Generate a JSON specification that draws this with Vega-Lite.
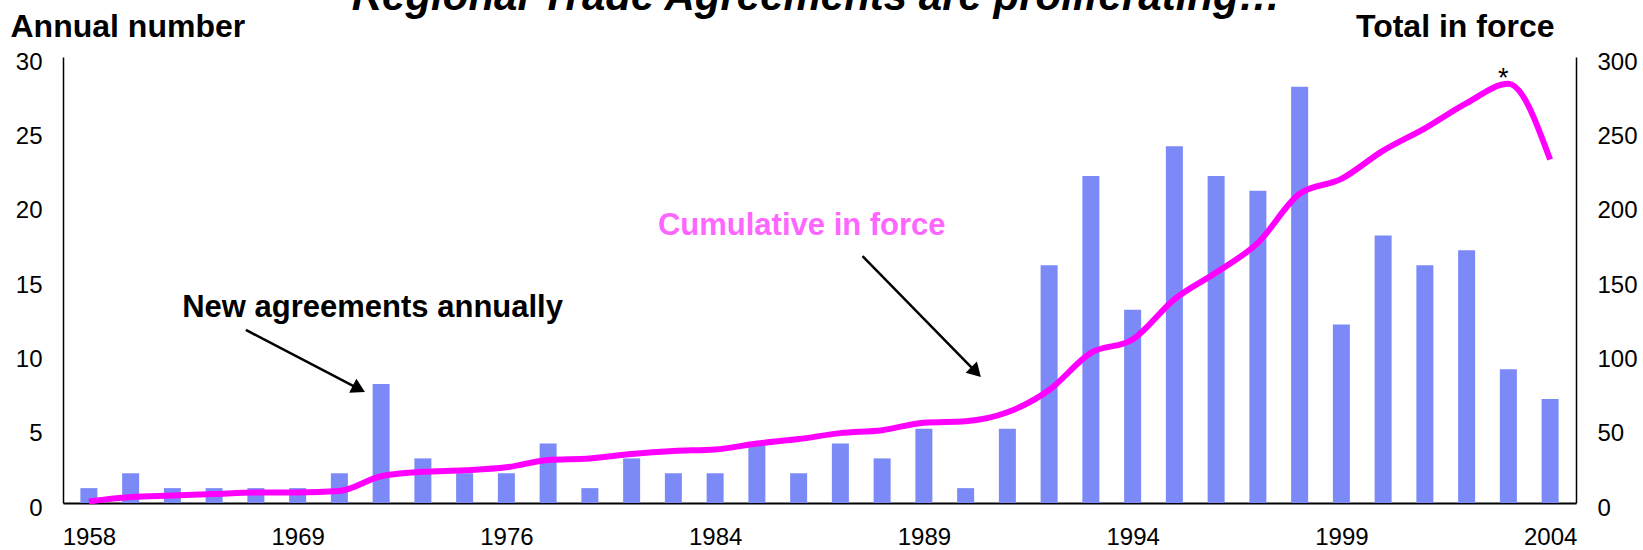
{
  "$schema": "https://vega.github.io/schema/vega-lite/v6.json",
  "width": 1513,
  "height": 446,
  "autosize": {"type": "none"},
  "padding": {"left": 63, "top": 57, "right": 67, "bottom": 47},
  "background": "white",
  "config": {
    "view": {"stroke": null},
    "font": "Liberation Sans",
    "axis": {
      "grid": false, "ticks": false, "tickSize": 0,
      "labelFont": "Liberation Sans", "labelFontSize": 24, "labelColor": "black",
      "domainColor": "black",
      "titleFont": "Liberation Sans", "titleFontSize": 32, "titleFontWeight": "bold", "titleColor": "black"
    }
  },
  "data": {
    "values": [
      {"idx": 0, "annual": 1, "cumulative": 1},
      {"idx": 1, "annual": 2, "cumulative": 4},
      {"idx": 2, "annual": 1, "cumulative": 5},
      {"idx": 3, "annual": 1, "cumulative": 6},
      {"idx": 4, "annual": 1, "cumulative": 7},
      {"idx": 5, "annual": 1, "cumulative": 7},
      {"idx": 6, "annual": 2, "cumulative": 8},
      {"idx": 7, "annual": 8, "cumulative": 18},
      {"idx": 8, "annual": 3, "cumulative": 21},
      {"idx": 9, "annual": 2, "cumulative": 22},
      {"idx": 10, "annual": 2, "cumulative": 24},
      {"idx": 11, "annual": 4, "cumulative": 29},
      {"idx": 12, "annual": 1, "cumulative": 30},
      {"idx": 13, "annual": 3, "cumulative": 33},
      {"idx": 14, "annual": 2, "cumulative": 35},
      {"idx": 15, "annual": 2, "cumulative": 36},
      {"idx": 16, "annual": 4, "cumulative": 40},
      {"idx": 17, "annual": 2, "cumulative": 43},
      {"idx": 18, "annual": 4, "cumulative": 47},
      {"idx": 19, "annual": 3, "cumulative": 49},
      {"idx": 20, "annual": 5, "cumulative": 54},
      {"idx": 21, "annual": 1, "cumulative": 55},
      {"idx": 22, "annual": 5, "cumulative": 61},
      {"idx": 23, "annual": 16, "cumulative": 76},
      {"idx": 24, "annual": 22, "cumulative": 101},
      {"idx": 25, "annual": 13, "cumulative": 110},
      {"idx": 26, "annual": 24, "cumulative": 137},
      {"idx": 27, "annual": 22, "cumulative": 155},
      {"idx": 28, "annual": 21, "cumulative": 175},
      {"idx": 29, "annual": 28, "cumulative": 208},
      {"idx": 30, "annual": 12, "cumulative": 218},
      {"idx": 31, "annual": 18, "cumulative": 237},
      {"idx": 32, "annual": 16, "cumulative": 252},
      {"idx": 33, "annual": 17, "cumulative": 269},
      {"idx": 34, "annual": 9, "cumulative": 282},
      {"idx": 35, "annual": 7, "cumulative": 231}
    ]
  },
  "layer": [
    {
      "layer": [
        {
          "mark": {"type": "bar", "color": "#7b8af7", "width": 17},
          "encoding": {
            "x": {
              "field": "idx", "type": "quantitative",
              "scale": {"domain": [-0.5, 35.5], "nice": false, "zero": false},
              "axis": {
                "values": [0, 5, 10, 15, 20, 25, 30, 35],
                "labelExpr": "['1958','1969','1976','1984','1989','1994','1999','2004'][round(datum.value/5)]",
                "title": null, "domainWidth": 2, "labelPadding": 22, "labelFlush": false
              }
            },
            "y": {
              "field": "annual", "type": "quantitative",
              "scale": {"domain": [0, 30], "nice": false},
              "axis": {
                "values": [0, 5, 10, 15, 20, 25, 30],
                "title": "Annual number", "titleAngle": 0, "titleX": -53, "titleY": -31,
                "titleAlign": "left", "titleBaseline": "middle",
                "labelPadding": 21, "labelOffset": 5, "domainWidth": 1.5
              }
            }
          }
        },
        {
          "data": {"values": [{}]},
          "mark": {"type": "text", "text": "Regional Trade Agreements are proliferating…", "align": "center", "baseline": "alphabetic", "fontSize": 42, "fontWeight": "bold", "fontStyle": "italic", "color": "black"},
          "encoding": {
            "x": {"datum": 17.42, "type": "quantitative", "scale": {"domain": [-0.5, 35.5], "nice": false, "zero": false}},
            "y": {"datum": 33.16, "type": "quantitative", "scale": {"domain": [0, 30], "nice": false}}
          }
        },
        {
          "data": {"values": [{}]},
          "mark": {"type": "text", "text": "New agreements annually", "align": "left", "baseline": "alphabetic", "fontSize": 31, "fontWeight": "bold", "color": "black"},
          "encoding": {
            "x": {"datum": 2.236, "type": "quantitative", "scale": {"domain": [-0.5, 35.5], "nice": false, "zero": false}},
            "y": {"datum": 12.53, "type": "quantitative", "scale": {"domain": [0, 30], "nice": false}}
          }
        },
        {
          "data": {"values": [{}]},
          "mark": {"type": "text", "text": "Cumulative in force", "align": "left", "baseline": "alphabetic", "fontSize": 31, "fontWeight": "bold", "color": "#ff66ff"},
          "encoding": {
            "x": {"datum": 13.63, "type": "quantitative", "scale": {"domain": [-0.5, 35.5], "nice": false, "zero": false}},
            "y": {"datum": 18.03, "type": "quantitative", "scale": {"domain": [0, 30], "nice": false}}
          }
        },
        {
          "data": {"values": [{}]},
          "mark": {"type": "text", "text": "*", "align": "center", "baseline": "alphabetic", "fontSize": 27, "color": "black"},
          "encoding": {
            "x": {"datum": 33.88, "type": "quantitative", "scale": {"domain": [-0.5, 35.5], "nice": false, "zero": false}},
            "y": {"datum": 28.0, "type": "quantitative", "scale": {"domain": [0, 30], "nice": false}}
          }
        },
        {
          "data": {"values": [{}]},
          "mark": {"type": "rule", "strokeWidth": 2.5, "color": "black"},
          "encoding": {
            "x": {"datum": 3.76, "type": "quantitative", "scale": {"domain": [-0.5, 35.5], "nice": false, "zero": false}},
            "x2": {"datum": 6.467},
            "y": {"datum": 11.64, "type": "quantitative", "scale": {"domain": [0, 30], "nice": false}},
            "y2": {"datum": 7.68}
          }
        },
        {
          "data": {"values": [{}]},
          "mark": {"type": "rule", "strokeWidth": 2.5, "color": "black"},
          "encoding": {
            "x": {"datum": 18.53, "type": "quantitative", "scale": {"domain": [-0.5, 35.5], "nice": false, "zero": false}},
            "x2": {"datum": 21.25},
            "y": {"datum": 16.61, "type": "quantitative", "scale": {"domain": [0, 30], "nice": false}},
            "y2": {"datum": 8.81}
          }
        },
        {
          "data": {"values": [{}]},
          "mark": {"type": "point", "shape": "triangle-up", "filled": true, "size": 250, "angle": 117.3, "color": "black", "opacity": 1},
          "encoding": {
            "x": {"datum": 6.467, "type": "quantitative", "scale": {"domain": [-0.5, 35.5], "nice": false, "zero": false}},
            "y": {"datum": 7.68, "type": "quantitative", "scale": {"domain": [0, 30], "nice": false}}
          }
        },
        {
          "data": {"values": [{}]},
          "mark": {"type": "point", "shape": "triangle-up", "filled": true, "size": 250, "angle": 135.5, "color": "black", "opacity": 1},
          "encoding": {
            "x": {"datum": 21.25, "type": "quantitative", "scale": {"domain": [-0.5, 35.5], "nice": false, "zero": false}},
            "y": {"datum": 8.81, "type": "quantitative", "scale": {"domain": [0, 30], "nice": false}}
          }
        }
      ]
    },
    {
      "mark": {"type": "line", "color": "#ff00ff", "strokeWidth": 6, "interpolate": "monotone"},
      "encoding": {
        "x": {"field": "idx", "type": "quantitative", "scale": {"domain": [-0.5, 35.5], "nice": false, "zero": false}},
        "y": {
          "field": "cumulative", "type": "quantitative",
          "scale": {"domain": [0, 300], "nice": false},
          "axis": {
            "orient": "right", "values": [0, 50, 100, 150, 200, 250, 300],
            "title": "Total in force", "titleAngle": 0, "titleX": -22, "titleY": -31,
            "titleAlign": "right", "titleBaseline": "middle",
            "labelPadding": 21, "labelOffset": 5, "domainWidth": 1.5
          }
        }
      }
    }
  ],
  "resolve": {"scale": {"y": "independent"}}
}
